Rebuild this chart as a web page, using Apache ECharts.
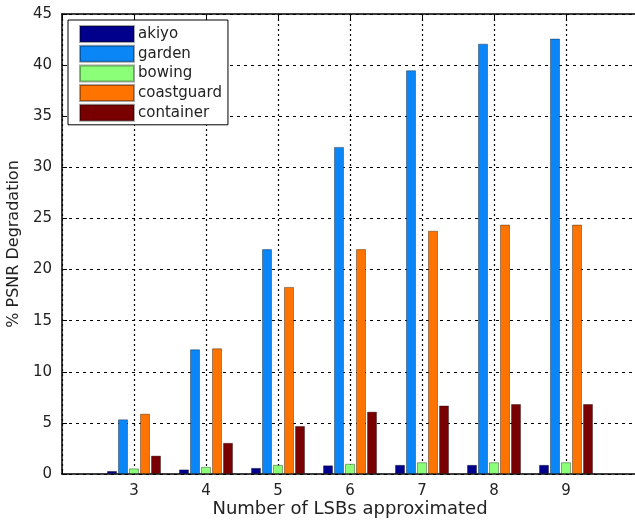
<!DOCTYPE html>
<html>
<head>
<meta charset="utf-8">
<script src="https://cdn.jsdelivr.net/npm/echarts@6/dist/echarts.min.js"></script>
<style>
  html, body { margin: 0; padding: 0; background: #fff; }
  #chartContainer { width: 635px; height: 520px; }
</style>
</head>
<body>
<div id="chartContainer"></div>
<script>
// number of LSBs approximated
const lsbs = [3, 4, 5, 6, 7, 8, 9];
const xTicks = [2, 3, 4, 5, 6, 7, 8, 9, 10];
const yTicks = [0, 5, 10, 15, 20, 25, 30, 35, 40, 45];

const akiyo = [0.3, 0.45, 0.6, 0.85, 0.9, 0.9, 0.9];
const garden = [5.35, 12.2, 22.0, 32.0, 39.5, 42.1, 42.6];
const bowing = [0.55, 0.7, 0.9, 1.0, 1.15, 1.15, 1.15];
const coastguard = [5.9, 12.3, 18.3, 22.0, 23.8, 24.4, 24.4];
const container = [1.8, 3.05, 4.7, 6.1, 6.7, 6.85, 6.85];

const seriesNames = ["akiyo", "garden", "bowing", "coastguard", "container"];
const seriesColors = ["#00008c", "#0a86f7", "#8cff78", "#ff7300", "#780000"];

const font = "DejaVu Sans";

/** pair x values with y values */
function toPoints(values) {
  let pts = [];
  for (let i = 0; i < lsbs.length; i++) {
    pts.push([lsbs[i], values[i]]);
  }
  return pts;
}

function makeSeries() {
  let all = [akiyo, garden, bowing, coastguard, container];
  return all.map(function(values, i) {
    return {
      name: seriesNames[i],
      type: "bar",
      barWidth: 10,
      barGap: "10%",
      data: toPoints(values),
      itemStyle: {
        color: seriesColors[i],
        borderColor: "rgba(0,0,0,0.35)",
        borderWidth: 1
      }
    };
  });
}

var myChart = echarts.init(document.getElementById("chartContainer"));

let option = {
  animation: false,
  backgroundColor: "#fff",
  grid: {
    left: 62,
    top: 14,
    width: 576,
    height: 460,
    outerBoundsMode: "none"
  },
  legend: {
    orient: "vertical",
    left: 68,
    top: 20,
    padding: [5, 6, 3, 11],
    itemWidth: 54,
    itemHeight: 16,
    itemGap: 1.7,
    backgroundColor: "#fff",
    borderColor: "#000",
    borderWidth: 1,
    icon: "rect",
    textStyle: { fontFamily: font, fontSize: 15, color: "#222", padding: [0, 0, 0, -1] },
    data: seriesNames
  },
  xAxis: [
    {
      type: "value",
      min: 2,
      max: 10,
      interval: 1,
      name: "Number of LSBs approximated",
      nameLocation: "middle",
      nameGap: 26,
      nameMoveOverlap: false,
      nameTextStyle: { fontFamily: font, fontSize: 18, color: "#222" },
      axisLine: { lineStyle: { color: "#000", width: 1.5 } },
      axisTick: { inside: true, length: 5, lineStyle: { color: "#000" } },
      axisLabel: {
        fontFamily: font,
        fontSize: 15,
        color: "#222",
        margin: 10,
        formatter: function(v) {
          return lsbs.indexOf(v) >= 0 ? String(v) : "";
        }
      },
      splitLine: {
        show: true,
        lineStyle: { color: "#000", type: [2, 3], width: 1.2 }
      }
    },
    {
      type: "value",
      position: "top",
      min: 2,
      max: 10,
      interval: 1,
      axisLine: { show: true, lineStyle: { color: "#000", width: 1.5 } },
      axisTick: { inside: true, length: 5, lineStyle: { color: "#000" } },
      axisLabel: { show: false },
      splitLine: { show: false }
    }
  ],
  yAxis: [
    {
      type: "value",
      min: 0,
      max: 45,
      interval: 5,
      name: "% PSNR Degradation",
      nameLocation: "middle",
      nameGap: 36,
      nameTextStyle: { fontFamily: font, fontSize: 16, color: "#222" },
      axisLine: { show: true, lineStyle: { color: "#000", width: 1.5 } },
      axisTick: { show: true, inside: true, length: 5, lineStyle: { color: "#000" } },
      axisLabel: { fontFamily: font, fontSize: 15, color: "#222", margin: 10 },
      splitLine: {
        show: true,
        lineStyle: { color: "#000", type: [3, 4], width: 1.2 }
      }
    }
  ],
  series: makeSeries()
};
myChart.setOption(option);
</script>
</body>
</html>
